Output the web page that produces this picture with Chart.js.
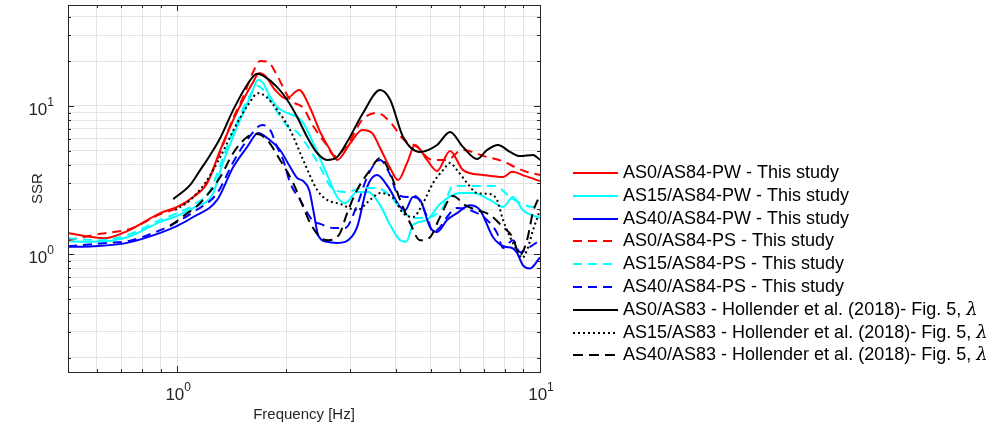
<!DOCTYPE html>
<html>
<head>
<meta charset="utf-8">
<title>SSR</title>
<script src="https://cdn.jsdelivr.net/npm/chart.js@4.4.0/dist/chart.umd.min.js"></script>
<style>
  html, body { margin: 0; padding: 0; background: #fff; }
  #wrap { width: 995px; height: 433px; }
</style>
</head>
<body>
<div id="wrap"><canvas id="chart" width="995" height="433"></canvas></div>
<script>
// [frequency (Hz), SSR] pairs
const as0pw = [[0.5,1.39],[0.558,1.32],[0.633,1.28],[0.728,1.43],[0.898,1.89],[1.0,2.08],[1.107,2.43],[1.21,3.02],[1.314,5.04],[1.427,8.04],[1.52,11.0],[1.62,14.5],[1.682,16.7],[1.747,16.0],[1.862,12.8],[1.997,11.2],[2.168,12.8],[2.325,9.69],[2.477,6.67],[2.64,5.04],[2.76,4.32],[3.0,5.62],[3.233,6.88],[3.444,6.57],[3.624,5.2],[3.863,3.81],[4.063,3.16],[4.301,4.12],[4.524,5.45],[4.884,4.32],[5.203,3.64],[5.65,4.97],[6.137,3.69],[6.966,3.42],[7.909,3.31],[8.374,3.59],[9.094,3.37],[10,3.11]];
const as15pw = [[0.5,1.22],[0.587,1.21],[0.728,1.3],[0.898,1.65],[1.0,1.81],[1.107,2.05],[1.256,2.58],[1.33,3.99],[1.463,7.21],[1.589,11.5],[1.672,15.0],[1.725,14.3],[1.781,12.2],[1.886,9.84],[2.009,8.97],[2.141,8.43],[2.224,7.68],[2.37,5.62],[2.59,3.42],[2.76,2.43],[2.903,2.21],[3.132,2.62],[3.358,2.62],[3.624,2.14],[3.863,1.57],[4.115,1.24],[4.274,1.21],[4.467,1.57],[4.884,1.7],[5.303,2.18],[6.02,2.58],[6.54,2.58],[7.28,2.32],[7.909,2.08],[8.428,2.43],[8.977,1.98],[10,1.75]];
const as40pw = [[0.5,1.12],[0.587,1.13],[0.728,1.19],[0.898,1.39],[1.0,1.55],[1.107,1.78],[1.289,2.32],[1.427,3.87],[1.559,5.28],[1.672,6.57],[1.77,6.08],[1.921,5.04],[2.048,3.87],[2.141,3.26],[2.224,3.11],[2.311,2.71],[2.385,1.84],[2.446,1.34],[2.59,1.21],[2.76,1.19],[2.903,1.21],[3.132,1.52],[3.338,2.84],[3.556,3.42],[3.814,2.84],[4.115,2.08],[4.247,1.98],[4.467,2.43],[4.671,2.32],[4.977,1.52],[5.203,1.41],[5.543,1.7],[5.907,1.89],[6.416,2.14],[6.834,1.98],[7.422,1.3],[8.01,1.12],[8.374,1.1],[8.643,1.02],[8.977,0.84],[9.386,0.8],[10,0.95]];
const as0ps = [[0.5,1.24],[0.614,1.37],[0.742,1.48],[0.898,1.86],[1.0,2.05],[1.107,2.43],[1.21,3.07],[1.314,4.89],[1.427,8.3],[1.52,11.5],[1.62,17.0],[1.693,20.1],[1.781,19.8],[1.874,16.5],[2.048,11.0],[2.224,9.69],[2.37,7.32],[2.557,5.62],[2.725,4.59],[3.0,5.89],[3.233,8.04],[3.556,8.97],[3.863,7.8],[4.194,5.98],[4.583,5.28],[5.04,4.32],[5.543,4.32],[6.098,5.04],[7.145,4.52],[7.858,4.25],[8.643,3.81],[9.208,3.58],[10,3.42]];
const as15ps = [[0.5,1.28],[0.614,1.24],[0.742,1.37],[0.898,1.7],[1.0,1.89],[1.107,2.14],[1.233,2.71],[1.33,4.32],[1.463,7.8],[1.589,11.9],[1.661,13.7],[1.747,12.4],[1.886,9.11],[2.009,7.32],[2.141,6.67],[2.325,5.04],[2.477,3.87],[2.64,2.88],[2.903,2.62],[3.253,2.79],[3.556,2.79],[3.863,2.47],[4.115,2.05],[4.467,1.75],[4.977,1.78],[5.404,2.08],[5.759,2.88],[6.623,2.88],[7.516,2.88],[8.27,2.43],[9.094,2.14],[10,2.05]];
const as40ps = [[0.5,1.13],[0.641,1.19],[0.728,1.22],[0.898,1.45],[1.0,1.65],[1.107,1.92],[1.289,2.58],[1.427,4.18],[1.559,5.89],[1.715,7.44],[1.804,6.88],[1.886,5.28],[1.959,4.32],[2.048,3.02],[2.182,2.32],[2.37,1.67],[2.477,1.6],[2.69,1.5],[2.903,1.5],[3.132,2.14],[3.358,3.42],[3.624,4.32],[3.863,3.42],[4.037,2.58],[4.301,2.43],[4.524,2.47],[4.671,2.28],[4.884,1.78],[5.073,1.41],[5.303,1.52],[5.543,1.78],[5.907,2.05],[6.416,1.98],[7.145,1.7],[7.612,1.39],[7.909,1.1],[8.428,1.24],[8.809,1.03],[9.386,1.12],[10,1.24]];
const as0h = [[0.975,2.35],[1.086,2.93],[1.157,3.69],[1.233,4.67],[1.314,6.08],[1.427,9.4],[1.559,13.9],[1.661,16.5],[1.725,16.0],[1.886,13.4],[2.009,11.0],[2.141,8.43],[2.281,6.17],[2.431,4.81],[2.59,4.32],[2.76,4.52],[2.94,5.71],[3.253,8.97],[3.624,12.8],[3.863,11.0],[4.194,6.17],[4.671,4.89],[5.203,5.45],[5.65,6.67],[6.137,5.28],[6.707,4.38],[7.145,5.04],[7.661,5.45],[8.27,4.89],[8.809,4.59],[9.566,4.67],[10,4.32]];
const as15h = [[0.987,1.98],[1.086,2.32],[1.194,3.02],[1.314,4.52],[1.444,7.21],[1.569,10.2],[1.672,12.2],[1.759,11.5],[1.886,9.4],[2.048,6.88],[2.224,4.32],[2.431,2.71],[2.59,2.32],[2.812,2.18],[3.132,1.98],[3.401,2.32],[3.624,2.58],[3.936,2.39],[4.194,1.89],[4.467,1.78],[4.761,2.21],[5.073,3.02],[5.404,3.69],[5.65,4.12],[5.907,3.69],[6.295,3.02],[6.707,2.58],[7.28,2.54],[7.612,2.32],[7.909,1.7],[8.27,1.3],[8.643,1.06],[8.921,0.94],[9.208,1.06],[9.566,1.45],[10,1.98]];
const as40h = [[0.957,1.55],[1.052,1.84],[1.157,2.21],[1.314,3.31],[1.427,4.81],[1.559,6.17],[1.661,6.47],[1.77,5.89],[1.921,4.32],[2.087,3.02],[2.224,2.08],[2.325,1.62],[2.477,1.3],[2.606,1.24],[2.812,1.39],[2.94,1.89],[3.132,2.71],[3.401,3.69],[3.624,4.45],[3.863,3.53],[4.115,2.32],[4.385,1.62],[4.671,1.24],[4.977,1.3],[5.303,1.78],[5.759,2.47],[6.215,2.14],[6.707,1.98],[7.28,1.84],[7.909,1.52],[8.374,1.32],[8.809,0.99],[9.208,1.24],[9.566,1.92],[10,2.5]];

const seriesData = [as0pw, as15pw, as40pw, as0ps, as15ps, as40ps, as0h, as15h, as40h];
const seriesNames = [
    "AS0/AS84-PW - This study",
    "AS15/AS84-PW - This study",
    "AS40/AS84-PW - This study",
    "AS0/AS84-PS - This study",
    "AS15/AS84-PS - This study",
    "AS40/AS84-PS - This study",
    "AS0/AS83 - Hollender et al. (2018)- Fig. 5, λ",
    "AS15/AS83 - Hollender et al. (2018)- Fig. 5, λ",
    "AS40/AS83 - Hollender et al. (2018)- Fig. 5, λ"
];
const seriesColors = ["#ff0000", "#00ffff", "#0000ff", "#ff0000", "#00ffff", "#0000ff", "#000000", "#000000", "#000000"];
const seriesDash = [[], [], [], [9, 6], [9, 6], [9, 6], [], [2, 3], [10, 6]];

const xRange = [0.5, 10];
const yRange = [0.16, 48];
// decade tick labels: value -> exponent
const decadeExp = { 1: "0", 10: "1" };

const FONT = "'Liberation Sans', Arial, Helvetica, sans-serif";
const AXIS_COLOR = "#262626";

// 1..9 x 10^n ticks inside a range (MATLAB style log grid)
function logTicks(min, max) {
    const out = [];
    for (let e = -2; e <= 2; e++) {
        for (let m = 1; m <= 9; m++) {
            const v = +(m * Math.pow(10, e)).toPrecision(3);
            if (v >= min * 0.999 && v <= max * 1.001) out.push({ value: v });
        }
    }
    return out;
}

// "10" with a raised exponent, anchored at (x, y) = centre of the base text
function drawPower(ctx, exp, x, y, align) {
    ctx.font = "17px " + FONT;
    const wb = ctx.measureText("10").width;
    ctx.font = "12px " + FONT;
    const we = ctx.measureText(exp).width;
    const left = align === "right" ? x - wb - we : x - (wb + we) / 2;
    ctx.textAlign = "left";
    ctx.textBaseline = "middle";
    ctx.font = "17px " + FONT;
    ctx.fillText("10", left, y);
    ctx.font = "12px " + FONT;
    ctx.fillText(exp, left + wb, y - 7);
}

// box around the plot, inward tick marks on all four sides, decade labels
const boxPlugin = {
    id: "box",
    afterDatasetsDraw(chart) {
        const { ctx, chartArea: a, scales } = chart;
        ctx.save();
        ctx.strokeStyle = AXIS_COLOR;
        ctx.lineWidth = 1;
        ctx.beginPath();
        scales.x.ticks.forEach(t => {
            const px = Math.round(scales.x.getPixelForValue(t.value)) + 0.5;
            const len = decadeExp[t.value] ? 6 : 3;
            ctx.moveTo(px, a.bottom); ctx.lineTo(px, a.bottom - len);
            ctx.moveTo(px, a.top); ctx.lineTo(px, a.top + len);
        });
        scales.y.ticks.forEach(t => {
            const py = Math.round(scales.y.getPixelForValue(t.value)) + 0.5;
            const len = decadeExp[t.value] ? 6 : 3;
            ctx.moveTo(a.left, py); ctx.lineTo(a.left + len, py);
            ctx.moveTo(a.right, py); ctx.lineTo(a.right - len, py);
        });
        ctx.stroke();
        ctx.strokeRect(Math.round(a.left) + 0.5, Math.round(a.top) + 0.5,
            Math.round(a.right - a.left), Math.round(a.bottom - a.top));

        ctx.fillStyle = AXIS_COLOR;
        scales.x.ticks.forEach(t => {
            if (decadeExp[t.value]) drawPower(ctx, decadeExp[t.value], scales.x.getPixelForValue(t.value) + 1, a.bottom + 23, "center");
        });
        scales.y.ticks.forEach(t => {
            if (decadeExp[t.value]) drawPower(ctx, decadeExp[t.value], a.left - 14, scales.y.getPixelForValue(t.value) + 4, "right");
        });
        ctx.restore();
    }
};

// legend to the right of the axes, like the MATLAB one
const legendPlugin = {
    id: "sideLegend",
    afterDraw(chart) {
        const ctx = chart.ctx;
        const x0 = 573, x1 = 618, tx = 623, y0 = 173, step = 22.8;
        ctx.save();
        chart.data.datasets.forEach((ds, i) => {
            const y = Math.round(y0 + i * step);
            ctx.strokeStyle = ds.borderColor;
            ctx.lineWidth = ds.borderWidth;
            ctx.setLineDash(ds.borderDash || []);
            ctx.beginPath();
            ctx.moveTo(x0, y); ctx.lineTo(x1, y);
            ctx.stroke();
            ctx.setLineDash([]);

            ctx.fillStyle = "#000";
            ctx.textBaseline = "middle";
            let label = ds.label;
            let greek = "";
            if (label.endsWith("λ")) { greek = "λ"; label = label.slice(0, -1); }
            ctx.font = "18px " + FONT;
            ctx.fillText(label, tx, y);
            if (greek) {
                const w = ctx.measureText(label).width;
                ctx.font = "italic 18px 'DejaVu Serif', serif";
                ctx.fillText(greek, tx + w, y);
            }
        });
        ctx.restore();
    }
};

const datasets = seriesData.map((pts, i) => ({
    label: seriesNames[i],
    data: pts.map(p => ({ x: p[0], y: p[1] })),
    borderColor: seriesColors[i],
    borderWidth: 2,
    borderDash: seriesDash[i],
    pointRadius: 0,
    fill: false,
    cubicInterpolationMode: "monotone",
    order: seriesData.length - i
}));

new Chart(document.getElementById("chart").getContext("2d"), {
    type: "line",
    data: { datasets: datasets },
    options: {
        responsive: false,
        animation: false,
        devicePixelRatio: 1,
        layout: { padding: { left: 0, right: 455, top: 5, bottom: 0 } },
        plugins: {
            legend: { display: false },
            tooltip: { enabled: false }
        },
        scales: {
            x: {
                type: "logarithmic",
                min: xRange[0],
                max: xRange[1],
                afterBuildTicks: axis => { axis.ticks = logTicks(xRange[0], xRange[1]); },
                afterFit: axis => { axis.height = 61; axis.paddingLeft = 0; axis.paddingRight = 0; },
                ticks: { display: false, autoSkip: false },
                grid: { color: "#e4e4e4", drawTicks: false },
                border: { display: false },
                title: {
                    display: true,
                    text: "Frequency [Hz]",
                    color: AXIS_COLOR,
                    font: { family: FONT, size: 15 },
                    padding: { top: 0, bottom: 9 }
                }
            },
            y: {
                type: "logarithmic",
                min: yRange[0],
                max: yRange[1],
                afterBuildTicks: axis => { axis.ticks = logTicks(yRange[0], yRange[1]); },
                afterFit: axis => { axis.width = 68; axis.paddingTop = 0; axis.paddingBottom = 0; },
                ticks: { display: false, autoSkip: false },
                grid: { color: "#e4e4e4", drawTicks: false },
                border: { display: false },
                title: {
                    display: true,
                    text: "SSR",
                    color: AXIS_COLOR,
                    font: { family: FONT, size: 15 },
                    padding: { top: 29, bottom: 0 }
                }
            }
        }
    },
    plugins: [boxPlugin, legendPlugin]
});
</script>
</body>
</html>
